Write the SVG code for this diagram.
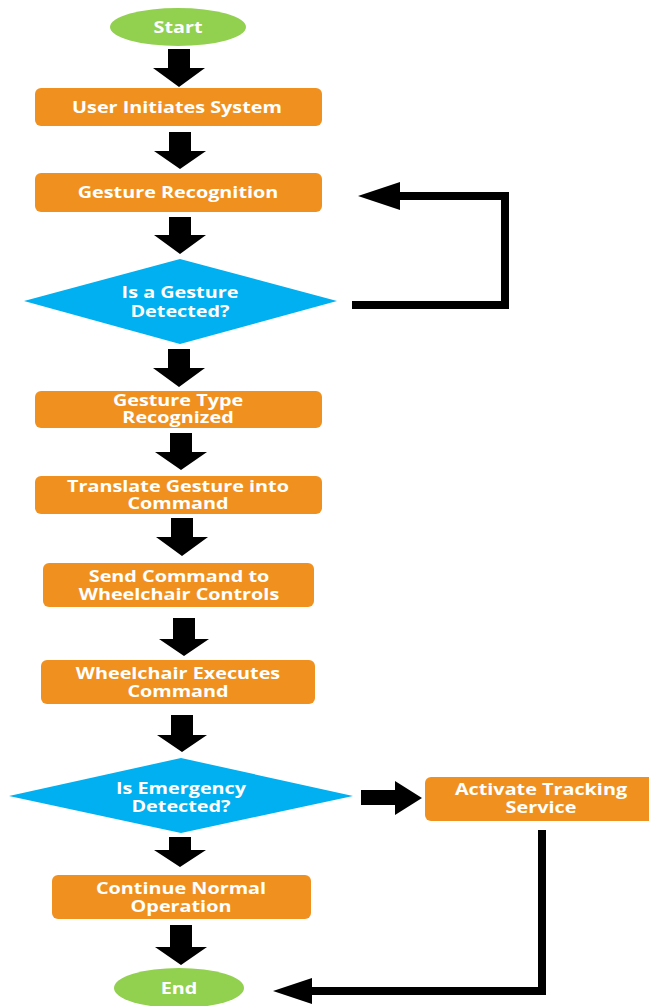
<svg xmlns="http://www.w3.org/2000/svg" width="649" height="1006" viewBox="0 0 649 1006">
<style>
.box{fill:#F0911F}
.term{fill:#92D050}
.dec{fill:#00B0F0}
.t{font-family:"Open Sans","Liberation Sans",sans-serif;font-weight:bold;font-size:16.5px;fill:#fff;text-anchor:middle}
.arr{fill:#000}
.ln{fill:none;stroke:#000;stroke-width:8;stroke-linejoin:miter}
</style>
<rect width="649" height="1006" fill="#fff"/>
<g id="start"><ellipse class="term" cx="178" cy="27" rx="68" ry="19"/><text class="t" transform="translate(178,33) scale(1.2,1)">Start</text></g>
<g id="user-initiates"><rect class="box" x="35" y="88" width="287" height="38" rx="6"/><text class="t" transform="translate(177,113) scale(1.2,1)">User Initiates System</text></g>
<g id="gesture-recognition"><rect class="box" x="35" y="173" width="287" height="39" rx="6"/><text class="t" transform="translate(178,198) scale(1.2,1)">Gesture Recognition</text></g>
<g id="gesture-detected"><polygon class="dec" points="24,301 180,259 337,301 180,344"/><text class="t" transform="translate(180,298) scale(1.2,1)">Is a Gesture</text><text class="t" transform="translate(180,317) scale(1.2,1)">Detected?</text></g>
<g id="gesture-type"><rect class="box" x="35" y="391" width="287" height="37" rx="6"/><text class="t" transform="translate(178,406) scale(1.2,1)">Gesture Type</text><text class="t" transform="translate(178,423) scale(1.2,1)">Recognized</text></g>
<g id="translate"><rect class="box" x="35" y="476" width="287" height="38" rx="6"/><text class="t" transform="translate(178,492) scale(1.2,1)">Translate Gesture into</text><text class="t" transform="translate(178,509) scale(1.2,1)">Command</text></g>
<g id="send-command"><rect class="box" x="43" y="563" width="271" height="44" rx="6"/><text class="t" transform="translate(179,582) scale(1.2,1)">Send Command to</text><text class="t" transform="translate(179,600) scale(1.2,1)">Wheelchair Controls</text></g>
<g id="executes"><rect class="box" x="41" y="660" width="274" height="44" rx="6"/><text class="t" transform="translate(178,679) scale(1.2,1)">Wheelchair Executes</text><text class="t" transform="translate(178,697) scale(1.2,1)">Command</text></g>
<g id="emergency"><polygon class="dec" points="9,796 181,758 353,796 181,833"/><text class="t" transform="translate(181,794) scale(1.2,1)">Is Emergency</text><text class="t" transform="translate(181,812) scale(1.2,1)">Detected?</text></g>
<g id="tracking"><rect class="box" x="425" y="777" width="230" height="44" rx="6"/><text class="t" transform="translate(541,795) scale(1.2,1)">Activate Tracking</text><text class="t" transform="translate(541,813) scale(1.2,1)">Service</text></g>
<g id="continue"><rect class="box" x="52" y="875" width="259" height="44" rx="6"/><text class="t" transform="translate(181,894) scale(1.2,1)">Continue Normal</text><text class="t" transform="translate(181,912) scale(1.2,1)">Operation</text></g>
<g id="end"><ellipse class="term" cx="179" cy="988" rx="65" ry="20"/><text class="t" transform="translate(179,994) scale(1.2,1)">End</text></g>
<g id="connectors">
<polygon class="arr" points="168,49 190,49 190,68 205,68 179,87 153,68 168,68"/>
<polygon class="arr" points="169,132 191,132 191,151 206,151 180,169 154,151 169,151"/>
<polygon class="arr" points="169,217 191,217 191,235 206,235 180,254 154,235 169,235"/>
<polygon class="arr" points="168,349 190,349 190,368 205,368 179,387 153,368 168,368"/>
<polygon class="arr" points="170,433 192,433 192,452 207,452 181,470 155,452 170,452"/>
<polygon class="arr" points="171,518 193,518 193,537 208,537 182,556 156,537 171,537"/>
<polygon class="arr" points="173,618 195,618 195,639 209,639 184,656 159,639 173,639"/>
<polygon class="arr" points="171,715 193,715 193,735 207,735 182,752 157,735 171,735"/>
<polygon class="arr" points="169,837 191,837 191,850 206,850 180,867 154,850 169,850"/>
<polygon class="arr" points="170,925 192,925 192,947 207,947 181,965 155,947 170,947"/>
<polygon class="arr" points="361,790 395,790 395,781 422,798 395,815 395,805 361,805"/>
<path class="ln" d="M352,305 H505 V196 H398"/>
<polygon class="arr" points="358,196 400,182 400,210"/>
<path class="ln" d="M542,830 V991 H310"/>
<polygon class="arr" points="273,991 312,978 312,1004"/>
</g>
</svg>
